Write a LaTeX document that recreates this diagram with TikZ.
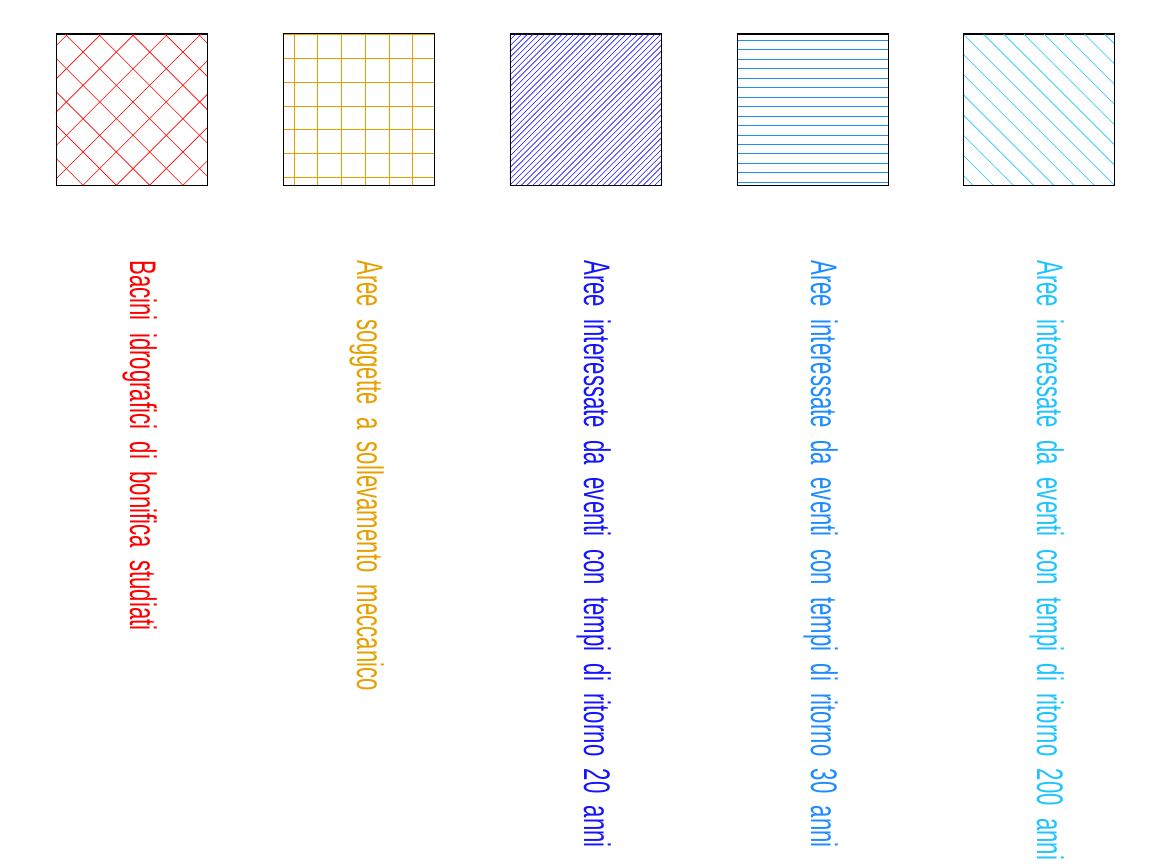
\documentclass[tikz,border=0pt]{standalone}
\usepackage{fontspec}
\usepackage{xcolor}
\usepackage{tikz}
\newfontfamily\cadfont[FakeStretch=0.60,WordSpace=2]{Liberation Sans}
\definecolor{bacred}{HTML}{FF0000}
\definecolor{sollorange}{HTML}{E6A000}
\definecolor{tr20}{HTML}{1414FF}
\definecolor{tr30}{HTML}{1E8CFF}
\definecolor{tr200}{HTML}{1EC4FF}
\tikzstyle{legendbox}=[draw=black,line width=0.5pt,minimum size=151pt,inner sep=0pt]
\tikzstyle{hatch}=[line width=0.6pt]
\tikzstyle{legendtext}=[rotate=-90,anchor=base west,inner sep=0pt,
  font=\cadfont\fontsize{37}{40}\selectfont]

\begin{document}
\begin{tikzpicture}[x=1pt,y=1pt]
  \useasboundingbox (0,0) rectangle (1165,864);
  % legend boxes
  \node[legendbox] (bac) at (131.5,754.5) {};
  \node[legendbox] (soll) at (358.5,754.5) {};
  \node[legendbox] (ev20) at (585.5,754.5) {};
  \node[legendbox] (ev30) at (812.5,754.5) {};
  \node[legendbox] (ev200) at (1038.5,754.5) {};
  % hatchings, clipped to the boxes
  \begin{scope}[shift={(bac.south west)},hatch,bacred]
    \clip (0,0) rectangle (151,151);
    \foreach \k in {-5,...,9} {
      \draw ({27.3+33.3*\k-160},-160) -- ++(320,320);
      \draw ({27.3+33.3*\k-160},160) -- ++(320,-320);
    }
  \end{scope}
  \begin{scope}[shift={(soll.south west)},hatch,sollorange]
    \clip (0,0) rectangle (151,151);
    \foreach \k in {0,...,5} \draw ({11.3+23.7*\k},0) -- ++(0,151);
    \foreach \k in {0,...,6} \draw (0,{8.3+23.7*\k}) -- ++(151,0);
  \end{scope}
  \begin{scope}[shift={(ev20.south west)},hatch,tr20]
    \clip (0,0) rectangle (151,151);
    \foreach \k in {-27,...,27} \draw ({5.8*\k},0) -- ++(160,160);
  \end{scope}
  \begin{scope}[shift={(ev30.south west)},hatch,tr30]
    \clip (0,0) rectangle (151,151);
    \foreach \k in {0,...,15} \draw (0,{3+9.48*\k}) -- ++(151,0);
  \end{scope}
  \begin{scope}[shift={(ev200.south west)},hatch,tr200]
    \clip (0,0) rectangle (151,151);
    \foreach \k in {-8,...,8} \draw ({0.7+20.2*\k},151) -- ++(160,-160);
  \end{scope}
  % box borders on top of the hatching
  \foreach \b in {bac,soll,ev20,ev30,ev200}
    \draw[line width=0.5pt] (\b.south west) rectangle (\b.north east);
  % legend texts
  \node[legendtext,bacred] (tbac) at ([xshift=-1.5pt,yshift=-75pt]bac.south) {Bacini idrografici di bonifica studiati};
  \node[legendtext,sollorange] (tsoll) at ([xshift=-1.5pt,yshift=-75pt]soll.south) {Aree soggette a sollevamento meccanico};
  \node[legendtext,tr20] (tev20) at ([xshift=-1.5pt,yshift=-75pt]ev20.south) {Aree interessate da eventi con tempi di ritorno 20 anni};
  \node[legendtext,tr30] (tev30) at ([xshift=-1.5pt,yshift=-75pt]ev30.south) {Aree interessate da eventi con tempi di ritorno 30 anni};
  \node[legendtext,tr200] (tev200) at ([xshift=-1.5pt,yshift=-75pt]ev200.south) {Aree interessate da eventi con tempi di ritorno 200 anni};
\end{tikzpicture}
\end{document}
